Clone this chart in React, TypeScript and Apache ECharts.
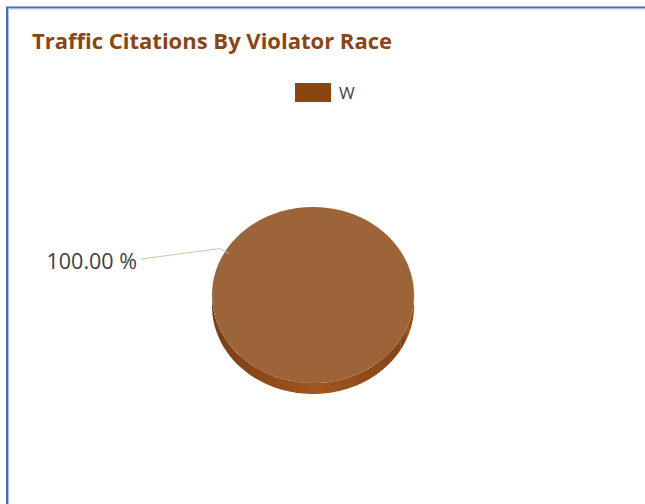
import React, { useEffect, useRef } from "react";
import * as echarts from "echarts";

const races: string[] = ["W"];
const citationShares: number[] = [100];

const TITLE = "Traffic Citations By Violator Race";
const legendColor = "#8B4513";
const topColor = "#9C6439";

function ellPt(cx: number, cy: number, rx: number, ry: number, a: number) {
  return [cx + rx * Math.cos(a), cy + ry * Math.sin(a)];
}

function arcPath(cx: number, cy: number, rx: number, ry: number, a0: number, a1: number, steps: number) {
  const pts: number[][] = [];
  for (let i = 0; i <= steps; i++) {
    const a = a0 + ((a1 - a0) * i) / steps;
    pts.push(ellPt(cx, cy, rx, ry, a));
  }
  return pts;
}

export default function App() {
  const ref = useRef<HTMLDivElement>(null);
  useEffect(() => {
    if (!ref.current) return;
    const chart = echarts.init(ref.current, null, { renderer: "svg" });
    const total = citationShares.reduce((s, v) => s + v, 0);
    const startDeg = 29.6;
    const cx = 313, cy = 295, rx = 101, ry = 88, depth = 11;

    const series = races.map((race, idx) => ({
      type: "custom",
      name: race,
      coordinateSystem: "none",
      itemStyle: { color: legendColor },
      data: [citationShares[idx]],
      renderItem: () => {
        let before = 0;
        for (let k = 0; k < idx; k++) before += citationShares[k];
        const frac = citationShares[idx] / total;
        const a0 = ((startDeg * Math.PI) / 180) + (before / total) * Math.PI * 2;
        const a1 = a0 + frac * Math.PI * 2;
        const children: any[] = [];
        const ranges: number[][] = [];
        for (let m = -1; m <= 2; m++) {
          const lo = Math.max(a0, m * 2 * Math.PI);
          const hi = Math.min(a1, m * 2 * Math.PI + Math.PI);
          if (hi > lo) ranges.push([lo, hi]);
        }
        ranges.forEach(([lo, hi]) => {
          const top = arcPath(cx, cy, rx, ry, lo, hi, 80);
          const bot = arcPath(cx, cy + depth, rx, ry, hi, lo, 80);
          const pts = top.concat(bot);
          children.push({
            type: "polygon",
            shape: { points: pts },
            style: {
              fill: new echarts.graphic.LinearGradient(0, 0, 1, 0, [
                { offset: 0, color: "#7A3D12" },
                { offset: 0.55, color: "#A0561E" },
                { offset: 1, color: "#86451A" },
              ]),
            },
          });
        });
        if (frac >= 0.9999) {
          children.push({
            type: "ellipse",
            shape: { cx, cy, rx, ry },
            style: { fill: topColor },
          });
        } else {
          const pts = [[cx, cy]].concat(arcPath(cx, cy, rx, ry, a0, a1, 120));
          children.push({ type: "polygon", shape: { points: pts }, style: { fill: topColor } });
        }
        const mid = (a0 + a1) / 2;
        const p0 = ellPt(cx, cy, rx - 4, ry - 4, mid);
        const p1 = ellPt(cx, cy, rx + 6, ry + 6, mid);
        const left = Math.cos(mid) < 0;
        const p2 = [left ? 141 : p1[0] + 76, 259];
        children.push({
          type: "polyline",
          shape: { points: [p0, p1, p2] },
          style: { stroke: "#D9BFA8", lineWidth: 1, fill: "none" },
        });
        children.push({
          type: "text",
          style: {
            text: (frac * 100).toFixed(2) + " %",
            x: left ? p2[0] - 4 : p2[0] + 4,
            y: p2[1] + 1,
            align: left ? "right" : "left",
            verticalAlign: "middle",
            fontSize: 21.5,
            fontFamily: "Open Sans",
            fill: "#404040",
          },
        });
        return { type: "group", children };
      },
    }));

    chart.setOption({
      animation: false,
      backgroundColor: "#ffffff",
      title: {
        text: TITLE,
        left: 27,
        top: 24,
        textStyle: {
          fontFamily: "Open Sans",
          fontWeight: "bold",
          fontSize: 22,
          color: "#8B4513",
        },
      },
      legend: {
        data: races,
        left: 295,
        top: 83,
        padding: 0,
        icon: "rect",
        itemWidth: 36,
        itemHeight: 19,
        itemGap: 10,
        textStyle: { fontFamily: "Open Sans", fontSize: 17, color: "#444444", padding: [0, 0, 0, 3] },
      },
      graphic: [
        { type: "line", shape: { x1: 6, y1: 7.5, x2: 645, y2: 7.5 }, style: { stroke: "#4A6CB3", lineWidth: 2 } },
        { type: "line", shape: { x1: 8, y1: 9, x2: 645, y2: 9 }, style: { stroke: "#B4C6E6", lineWidth: 1 } },
        { type: "line", shape: { x1: 7, y1: 7, x2: 7, y2: 504 }, style: { stroke: "#4A6CB3", lineWidth: 2 } },
        { type: "line", shape: { x1: 8.5, y1: 9, x2: 8.5, y2: 504 }, style: { stroke: "#B4C6E6", lineWidth: 1 } },
      ],
      series,
    });
    return () => chart.dispose();
  }, []);
  return (
    <div
      ref={ref}
      style={{ position: "fixed", left: 0, top: 0, width: 645, height: 504 }}
    />
  );
}
